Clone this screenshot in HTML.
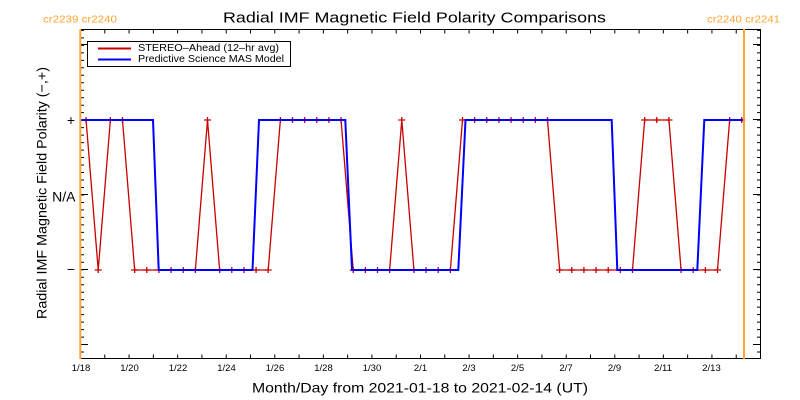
<!DOCTYPE html>
<html><head><meta charset="utf-8"><style>
html,body{margin:0;padding:0;background:#fff;}
svg{display:block;}
text{font-family:"Liberation Sans",sans-serif;}
</style></head><body>
<svg width="800" height="400" viewBox="0 0 800 400" xmlns="http://www.w3.org/2000/svg">
<defs>
<marker id="p" markerUnits="userSpaceOnUse" markerWidth="8" markerHeight="8" refX="4" refY="4" overflow="visible">
<path d="M0.5 4h7M4 1v6" stroke="#c80000" stroke-width="1.3" fill="none"/>
</marker>
</defs>
<rect width="800" height="400" fill="#fff"/>
<text x="223" y="22.7" font-size="15" textLength="383" lengthAdjust="spacingAndGlyphs" fill="#000">Radial IMF Magnetic Field Polarity Comparisons</text>
<text x="43" y="22.5" font-size="10" textLength="74" lengthAdjust="spacingAndGlyphs" fill="#ffa333">cr2239 cr2240</text>
<text x="707" y="22.5" font-size="10" textLength="73" lengthAdjust="spacingAndGlyphs" fill="#ffa333">cr2240 cr2241</text>
<rect x="80.5" y="29.5" width="680" height="329" fill="none" stroke="#000" stroke-width="1"/>
<line x1="80" y1="31.5" x2="760" y2="31.5" stroke="#000" stroke-width="4" stroke-dasharray="1 23.2857"/>
<line x1="80" y1="356.5" x2="760" y2="356.5" stroke="#000" stroke-width="4" stroke-dasharray="1 23.2857"/>
<line x1="82" y1="29.9" x2="82" y2="359" stroke="#000" stroke-width="4" stroke-dasharray="1 6.48"/>
<line x1="759" y1="29.9" x2="759" y2="359" stroke="#000" stroke-width="4" stroke-dasharray="1 6.48"/>
<path stroke="#000" stroke-width="1" fill="none" d="M80 44.5h8M80 119.5h8M80 194.5h8M80 269.5h8M80 344.5h8M761 44.5h-8M761 119.5h-8M761 194.5h-8M761 269.5h-8M761 344.5h-8"/>
<text x="71" y="125" font-size="14" text-anchor="middle" fill="#000">+</text>
<text x="75.5" y="201.5" font-size="14" text-anchor="end" fill="#000">N/A</text>
<text x="71" y="274" font-size="14" text-anchor="middle" fill="#000">−</text>
<g font-size="9.5" text-anchor="middle" fill="#000">
<text x="81" y="371">1/18</text>
<text x="129.5" y="371">1/20</text>
<text x="178" y="371">1/22</text>
<text x="226.5" y="371">1/24</text>
<text x="275" y="371">1/26</text>
<text x="323.5" y="371">1/28</text>
<text x="372" y="371">1/30</text>
<text x="420.5" y="371">2/1</text>
<text x="469" y="371">2/3</text>
<text x="517.5" y="371">2/5</text>
<text x="566" y="371">2/7</text>
<text x="614.5" y="371">2/9</text>
<text x="663" y="371">2/11</text>
<text x="711.5" y="371">2/13</text>
</g>
<text x="252" y="392.5" font-size="14" textLength="336" lengthAdjust="spacingAndGlyphs" fill="#000">Month/Day from 2021-01-18 to 2021-02-14 (UT)</text>
<text transform="translate(46.5,193) rotate(-90)" font-size="14" text-anchor="middle" textLength="252" lengthAdjust="spacingAndGlyphs" fill="#000">Radial IMF Magnetic Field Polarity (−,+)</text>
<polyline fill="none" stroke="#c80000" stroke-width="1.3" marker-start="url(#p)" marker-mid="url(#p)" marker-end="url(#p)" points="86.07,120 98.21,270 110.36,120 122.50,120 134.64,270 146.79,270 158.93,270 171.07,270 183.21,270 195.36,270 207.50,120 219.64,270 231.79,270 243.93,270 256.07,270 268.21,270 280.36,120 292.50,120 304.64,120 316.79,120 328.93,120 341.07,120 353.21,270 365.36,270 377.50,270 389.64,270 401.79,120 413.93,270 426.07,270 438.21,270 450.36,270 462.50,120 474.64,120 486.79,120 498.93,120 511.07,120 523.21,120 535.36,120 547.50,120 559.64,270 571.79,270 583.93,270 596.07,270 608.21,270 620.36,270 632.50,270 644.64,120 656.79,120 668.93,120 681.07,270 693.21,270 705.36,270 717.50,270 729.64,120 741.79,120"/>
<polyline fill="none" stroke="#0000ff" stroke-width="2" points="80,120 153,120 158.7,270 252.5,270 259,120 345.3,120 352,270 458.3,270 465.5,120 611.7,120 617.3,270 697.3,270 704.3,120 745,120"/>
<line x1="80.3" y1="29" x2="80.3" y2="359" stroke="#ffa333" stroke-width="2"/>
<line x1="744" y1="29" x2="744" y2="359" stroke="#ffa333" stroke-width="2"/>
<rect x="87.5" y="41.5" width="203" height="25" fill="#fff" stroke="#000" stroke-width="1"/>
<line x1="98" y1="48.5" x2="131" y2="48.5" stroke="#c80000" stroke-width="2"/>
<line x1="98" y1="59.5" x2="131" y2="59.5" stroke="#0000ff" stroke-width="2"/>
<text x="138" y="51" font-size="10" textLength="141" lengthAdjust="spacingAndGlyphs" fill="#000">STEREO–Ahead (12–hr avg)</text>
<text x="138" y="62" font-size="10" textLength="146" lengthAdjust="spacingAndGlyphs" fill="#000">Predictive Science MAS Model</text>
</svg>
</body></html>
